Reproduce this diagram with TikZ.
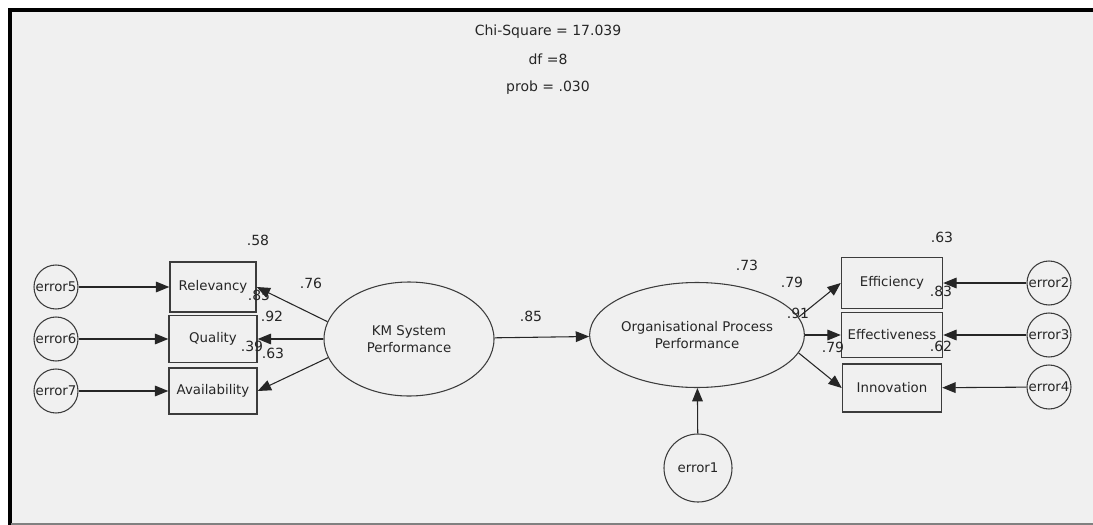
\documentclass[tikz,border=0pt]{standalone}
\usepackage{fontspec}
\setmainfont{DejaVu Sans}
\usetikzlibrary{shapes.geometric,arrows.meta}
\definecolor{panel}{HTML}{F0F0F0}
\definecolor{ink}{HTML}{3C3C3C}
\definecolor{wire}{HTML}{262626}
\newcommand\semfont{\fontsize{10}{12.5}\selectfont}
\newcommand\estfont{\fontsize{10.5}{12.5}\selectfont}

\begin{document}
\begin{tikzpicture}[x=.75pt,y=-.75pt,line width=.8pt,
  obs/.style={draw=ink,line width=1.1pt,rectangle,inner sep=0pt,text=black!85,font=\semfont},
  lat/.style={draw=ink,ellipse,inner sep=0pt,align=center,text=black!85,font=\semfont},
  err/.style={draw=ink,circle,inner sep=0pt,minimum size=33pt,text=black!85,font=\semfont},
  est/.style={inner sep=0pt,text=black!85,font=\estfont},
  reg/.style={draw=wire,-{Triangle[length=10pt,width=8pt]}}]
  \useasboundingbox (0,0) rectangle (1093,525);
  \fill[white] (0,0) rectangle (1093,525);
  \fill[panel] (10,9) rectangle (1093,523);
  \draw[line width=3pt] (10,525) -- (10,9.5) -- (1093,9.5);
  \draw[gray,line width=1.5pt] (11,524) -- (1093,524);

  % fit summary
  \node[est,font=\fontsize{10.5}{12}\selectfont] (chi) at (548,32) {Chi-Square = 17.039};
  \node[est,font=\fontsize{10.5}{12}\selectfont] (df) at (548,59) {df =8};
  \node[est,font=\fontsize{10.5}{12}\selectfont] (prob) at (548,88) {prob = .030};

  % latent variables
  \node[lat,minimum width=127.5pt,minimum height=85.5pt] (km) at (409,339) {KM System\\Performance};
  \node[lat,minimum width=135.75pt,minimum height=78.75pt] (opp) at (697,335) {Organisational Process\\Performance};

  % indicators
  \node[obs,minimum width=64.5pt,minimum height=37.5pt] (rel) at (213,287) {Relevancy};
  \node[obs,minimum width=66pt,minimum height=35pt] (qua) at (213,339) {Quality};
  \node[obs,minimum width=66pt,minimum height=34.5pt] (ava) at (213,391) {Availability};
  \node[obs,minimum width=75.75pt,minimum height=38.25pt] (eff) at (892,283) {Efficiency};
  \node[obs,minimum width=75.75pt,minimum height=33.75pt] (efv) at (892,335) {Effectiveness};
  \node[obs,minimum width=74.25pt,minimum height=36pt] (inn) at (892,388) {Innovation};

  % errors
  \node[err] (e5) at (56,287) {error5};
  \node[err] (e6) at (56,339) {error6};
  \node[err] (e7) at (56,391) {error7};
  \node[err] (e2) at (1049,283) {error2};
  \node[err] (e3) at (1049,335) {error3};
  \node[err] (e4) at (1049,387) {error4};
  \node[err,minimum size=51pt] (e1) at (698,468) {error1};

  % estimates
  \node[est] (r2rel) at (258,240) {.58};
  \node[est] (lrel) at (311,283) {.76};
  \node[est] (r2qua) at (259,295) {.85};
  \node[est] (lqua) at (272,316) {.92};
  \node[est] (r2ava) at (252,346) {.39};
  \node[est] (lava) at (273,353) {.63};
  \node[est] (bopp) at (531,316) {.85};
  \node[est] (r2opp) at (747,265) {.73};
  \node[est] (leff) at (792,282) {.79};
  \node[est] (lefv) at (798,313) {.91};
  \node[est] (linn) at (833,347) {.79};
  \node[est] (r2eff) at (942,237) {.63};
  \node[est] (r2efv) at (941,291) {.83};
  \node[est] (r2inn) at (941,346) {.62};

  % paths
  \draw[reg] (km.168) -- (rel.east);
  \draw[reg] (km.west) -- (qua.east);
  \draw[reg] (km.193) -- (ava.east);
  \draw[reg] (km) -- (opp);
  \draw[reg] (opp.10) -- (eff.west);
  \draw[reg] (opp.east) -- (efv.west);
  \draw[reg] (opp.350) -- (inn.west);
  \draw[reg] (e1) -- (opp);
  \draw[reg] (e5) -- (rel);
  \draw[reg] (e6) -- (qua);
  \draw[reg] (e7) -- (ava);
  \draw[reg] (e2) -- (eff);
  \draw[reg] (e3) -- (efv);
  \draw[reg] (e4) -- (inn);
\end{tikzpicture}
\end{document}
